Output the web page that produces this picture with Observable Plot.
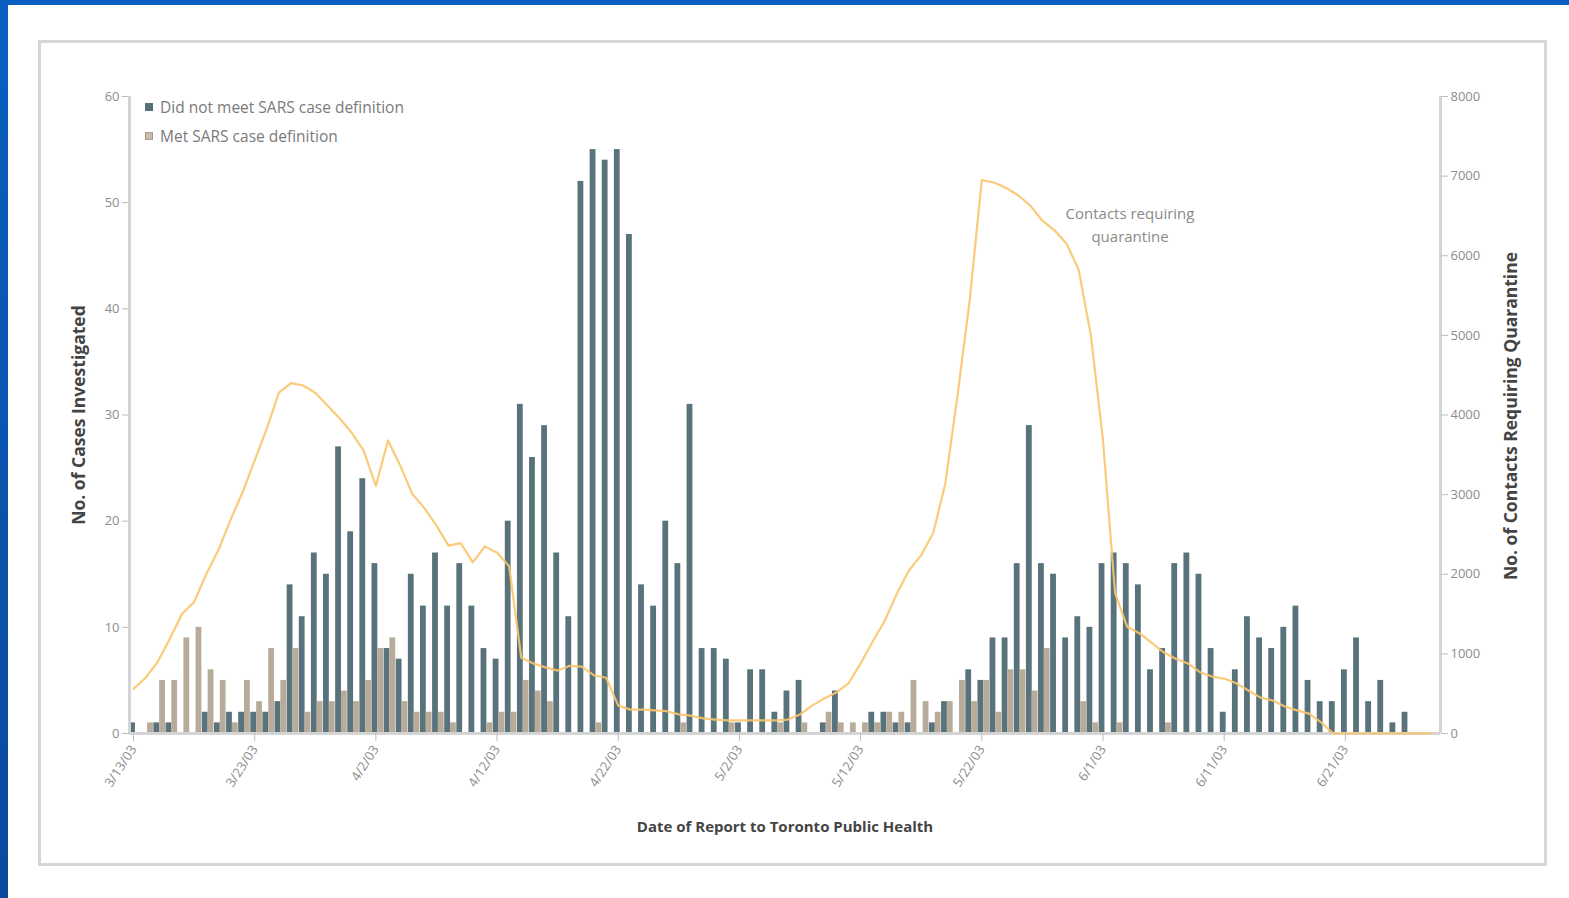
<!DOCTYPE html>
<html><head><meta charset="utf-8">
<script src="https://cdn.jsdelivr.net/npm/d3@7"></script>
<script src="https://cdn.jsdelivr.net/npm/@observablehq/plot@0.6"></script>
<style>
html,body{margin:0;padding:0;width:1569px;height:898px;overflow:hidden;background:#fff;font-family:"Open Sans",sans-serif;}
.blue-top{position:absolute;left:0;top:0;width:1569px;height:5px;background:#0a5fc0}
.blue-left{position:absolute;left:0;top:0;width:8px;height:898px;background:linear-gradient(#0a5fc0,#0a4a9e)}
#box{position:absolute;left:38px;top:40px;width:1503px;height:820px;border:3px solid #d6d6d6;background:#fff}
#chart{position:absolute;left:40px;top:60px;}
.lg{position:absolute;font-size:15.5px;color:#7a7a7a;white-space:nowrap;line-height:16px}
.sw{position:absolute;width:8px;height:8px}
.ttl{position:absolute;font-weight:bold;color:#444;white-space:nowrap;}
.ann{position:absolute;font-size:15px;color:#8a8a8a;text-align:center;width:220px;line-height:23px}
</style></head>
<body>
<div class="blue-top"></div><div class="blue-left"></div>
<div id="box"></div>
<div id="chart"></div>
<div class="sw" style="left:145px;top:103px;background:#56707a"></div>
<div class="lg" style="left:160px;top:99px">Did not meet SARS case definition</div>
<div class="sw" style="left:145px;top:132px;background:#c9bcab;border:1px solid #a99c8c;width:6px;height:6px"></div>
<div class="lg" style="left:160px;top:128px">Met SARS case definition</div>
<div class="ann" style="left:1020px;top:202px">Contacts requiring<br>quarantine</div>
<div class="ttl" style="left:785px;top:826px;font-size:15px;transform:translate(-50%,-50%)">Date of Report to Toronto Public Health</div>
<div class="ttl" style="left:78px;top:415px;font-size:17.5px;transform:translate(-50%,-50%) rotate(-90deg)">No. of Cases Investigated</div>
<div class="ttl" style="left:1510px;top:416px;font-size:17.5px;transform:translate(-50%,-50%) rotate(-90deg)">No. of Contacts Requiring Quarantine</div>
<script>
// Tick labels (every 10 days from 3/13/03)
const tickDays = [0,10,20,30,40,50,60,70,80,90,100];
const tickLabels = ["3/13/03","3/23/03","4/2/03","4/12/03","4/22/03","5/2/03","5/12/03","5/22/03","6/1/03","6/11/03","6/21/03"];
// Daily series, day 0 = 3/13/03
const notMet = [1,0,1,1,0,0,2,1,2,2, 2,2,3,14,11,17,15,27,19,24, 16,8,7,15,12,17,12,16,12,8, 7,20,31,26,29,17,11,52,55,54,
  55,47,14,12,20,16,31,8,8,7, 1,6,6,2,4,5,0,1,4,0, 0,2,2,1,1,0,1,3,0,6, 5,9,9,16,29,16,15,9,11,10,
  16,17,16,14,6,8,16,17,15,8, 2,6,11,9,8,10,12,5,3,3, 6,9,3,5,1,2,0,0];
const met = [0,1,5,5,9,10,6,5,1,5, 3,8,5,8,2,3,3,4,3,5, 8,9,3,2,2,2,1,0,0,1, 2,2,5,4,3,0,0,0,1,0,
  0,0,0,0,0,1,0,0,0,1, 0,0,0,1,0,1,0,2,1,1, 1,1,2,2,5,3,2,3,5,3, 5,2,6,6,4,8,0,0,3,1,
  0,1,0,0,0,1,0,0,0,0, 0,0,0,0,0,0,0,0,0,0, 0,0,0,0,0,0,0,0];
const contacts = [560,700,900,1190,1500,1650,2000,2300,2680,3030, 3430,3830,4280,4400,4370,4280,4120,3960,3780,3550,
  3110,3680,3370,3010,2830,2610,2360,2390,2150,2350, 2270,2100,950,880,830,790,850,840,730,700,
  350,300,300,290,280,240,225,190,175,165, 165,165,165,165,175,240,350,440,515,630,
  880,1155,1420,1760,2050,2240,2520,3150,4250,5440, 6950,6920,6850,6760,6630,6440,6320,6150,5820,5000,
  3680,1760,1340,1260,1140,1020,940,880,770,715, 690,630,540,450,415,340,290,250,140,0,
  0,0,0,0,0,0,0,0];
const leftTicks = [0,10,20,30,40,50,60];
const rightTicks = [0,1000,2000,3000,4000,5000,6000,7000,8000];
const leftMax = 60, rightMax = 8000;
const toLeft = c => c * leftMax / rightMax;

const rows = notMet.map((v,i)=>({day:i, notMet:v, met:met[i], contacts:contacts[i]}));
const x0 = -0.33, x1 = 107.85;
const axisGray = "#d4d4d4";

const chart = Plot.plot({
  width:1505, height:800,
  marginLeft:89, marginRight:105, marginTop:36, marginBottom:127,
  x:{type:"linear", domain:[x0,x1]},
  y:{domain:[0,leftMax]},
  style:{fontFamily:"Open Sans, sans-serif", fontSize:"13px", color:"#8c8c8c", background:"transparent", overflow:"visible"},
  marks:[
    Plot.rectY(rows,{x1:d=>d.day-0.32, x2:d=>d.day+0.16, y:"notMet", fill:"#58737b"}),
    Plot.rectY(rows,{x1:d=>d.day+0.16, x2:d=>d.day+0.64, y:"met", fill:"#b9ab9a"}),
    Plot.ruleX([x0],{stroke:axisGray, strokeWidth:3}),
    Plot.ruleX([x1],{stroke:axisGray, strokeWidth:3}),
    Plot.ruleY([0],{stroke:axisGray, strokeWidth:3}),
    Plot.line(rows,{x:"day", y:d=>toLeft(d.contacts), stroke:"#fbc46c", strokeWidth:2.2, strokeOpacity:0.9}),
    Plot.axisY({ticks:leftTicks, tickSize:7, label:null, stroke:"#bdbdbd"}),
    Plot.axisY({anchor:"right", ticks:rightTicks.map(toLeft), tickFormat:d=>String(Math.round(d*rightMax/leftMax)), tickSize:7, label:null, stroke:"#bdbdbd"}),
    Plot.axisX({ticks:tickDays, tickFormat:d=>tickLabels[tickDays.indexOf(d)], tickRotate:-57, tickSize:8, label:null, stroke:"#bdbdbd"})
  ]
});
document.getElementById("chart").appendChild(chart);
</script>
</body></html>
